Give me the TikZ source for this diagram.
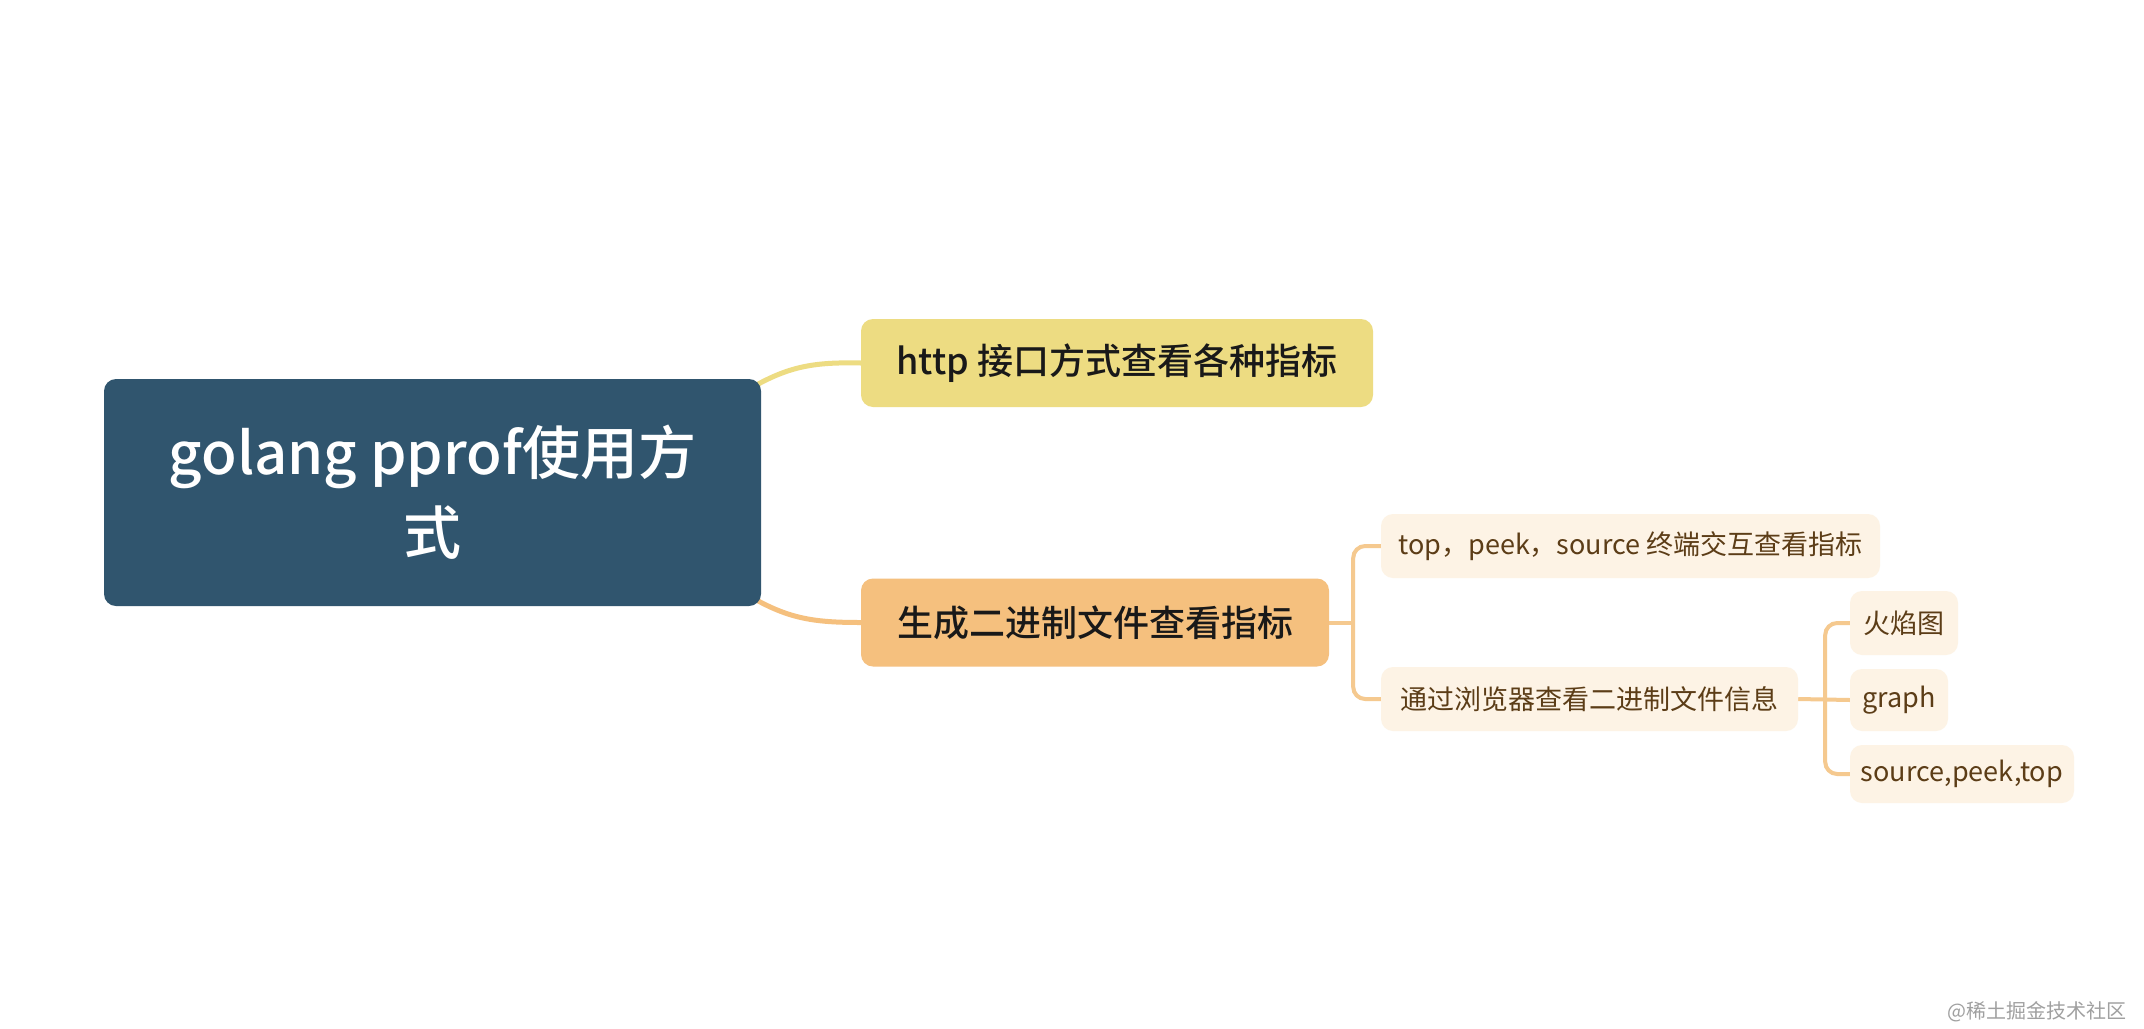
\documentclass[tikz,border=0pt]{standalone}
\usepackage{fontspec}
\setmainfont{Noto Sans CJK SC}
\newfontfamily\medfont{Noto Sans CJK SC}[UprightFont=* Medium]
\usetikzlibrary{backgrounds}
\definecolor{rootc}{HTML}{30556E}
\definecolor{httpc}{HTML}{EDDC82}
\definecolor{genc}{HTML}{F5C07E}
\definecolor{leafc}{HTML}{FDF3E5}
\definecolor{leaft}{HTML}{5C3D17}
\definecolor{linec}{HTML}{F5C98F}
\definecolor{wmc}{HTML}{A0A0A0}
\begin{document}
\begin{tikzpicture}[x=1pt,y=-1pt,
  box/.style={rounded corners=12pt, inner sep=0pt, align=center},
  rootbox/.style={box, fill=rootc, text=white, minimum width=657pt, minimum height=227pt,
    font=\fontsize{58}{80}\selectfont\medfont},
  mainbox/.style={box, text=black!90, minimum height=88pt,
    font=\fontsize{36}{44}\selectfont\medfont},
  leafbox/.style={box, fill=leafc, text=leaft, minimum height=62pt,
    font=\fontsize{27}{32}\selectfont},
  conn/.style={line width=5pt, line cap=round},
  subconn/.style={line width=4pt, draw=linec, rounded corners=12pt}]
\useasboundingbox (0,0) rectangle (2144,1028);

\node[rootbox] (root) at (432.5,492.5) {golang pprof使用方\\式};
\node[mainbox, fill=httpc, minimum width=512pt] (http) at (1117,363) {http 接口方式查看各种指标};
\node[mainbox, fill=genc, minimum width=468pt] (gen) at (1095,622.5) {生成二进制文件查看指标};
\node[leafbox, minimum width=499pt, minimum height=64pt] (top) at (1630.5,546) {top，peek，source 终端交互查看指标};
\node[leafbox, minimum width=417pt, minimum height=64pt] (tong) at (1589.5,699) {通过浏览器查看二进制文件信息};
\node[leafbox, minimum width=108pt, minimum height=64pt] (fire) at (1904,623) {火焰图};
\node[leafbox, minimum width=98pt] (graph) at (1899,700) {graph};
\node[leafbox, minimum width=224pt, minimum height=58pt] (src) at (1962,774) {source,peek,top};

\node[anchor=east, text=wmc, inner sep=0pt, font=\fontsize{20}{22}\selectfont] (wm) at (2127,1012) {@稀土掘金技术社区};

\begin{pgfonlayer}{background}
  \fill[white] (0,0) rectangle (2144,1028);
  \coordinate (r1) at ([xshift=-8pt,yshift=-8pt]root.north east);
  \coordinate (r2) at ([xshift=-8pt,yshift=8pt]root.south east);
  \draw[conn, draw=httpc] (r1) .. controls (790,366) and (815,362) .. (http.west);
  \draw[conn, draw=genc] (r2) .. controls (790,619) and (815,622.5) .. (gen.west);
  \path (gen.east) ++(24,0) coordinate (j1);
  \draw[subconn] (gen.east) -- (j1);
  \draw[subconn] (top.west) -- (top.west -| j1) -- (tong.west -| j1) -- (tong.west);
  \path (tong.east) ++(27,0) coordinate (j2);
  \draw[subconn] (tong.east) -- (graph.west);
  \draw[subconn] (fire.west) -- (fire.west -| j2) -- (src.west -| j2) -- (src.west);
\end{pgfonlayer}
\end{tikzpicture}
\end{document}
